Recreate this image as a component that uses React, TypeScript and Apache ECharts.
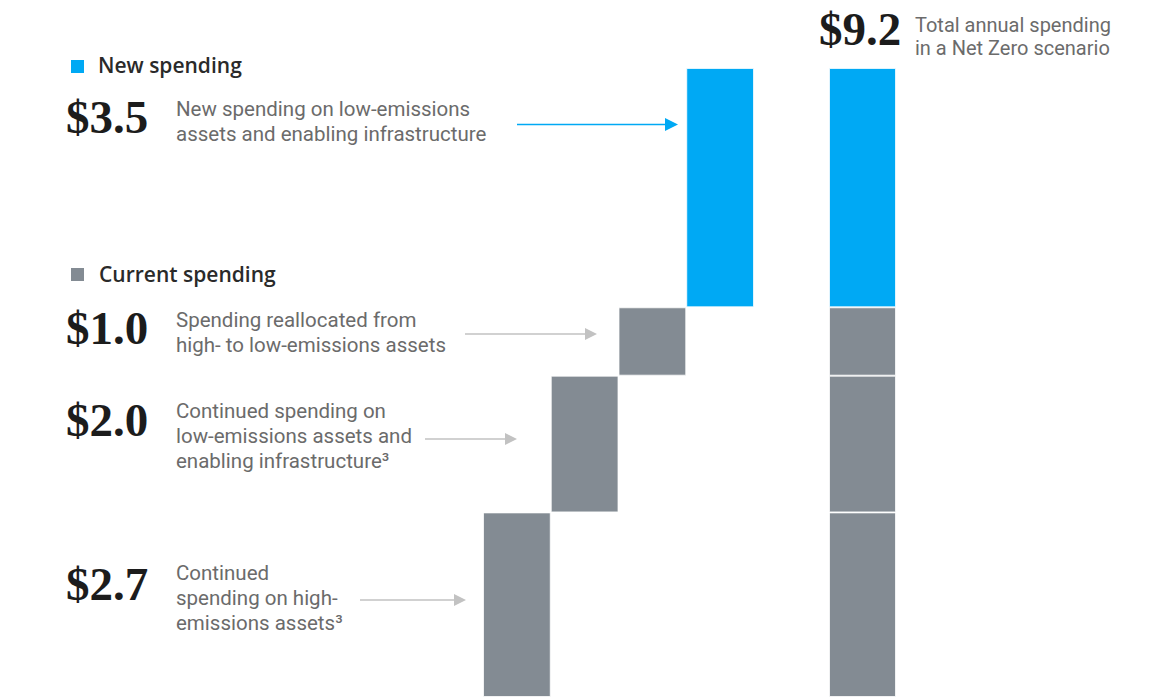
import React, { useEffect, useRef } from "react";
import * as echarts from "echarts";

const categories = ["High-emissions assets", "Low-emissions assets", "Reallocated", "New spending"];
const values = [2.7, 2.0, 1.0, 3.5];
const kinds = ["current", "current", "current", "new"];
const totalLabel = "$9.2";
const yMax = 9.2;

const GRAY = "#838b93";
const BLUE = "#00a9f4";
const DARK = "#1c1c1c";
const DESC = "#6b6b6b";
const ARROW_GRAY = "#c2c2c2";

const SERIF = "'Liberation Serif', 'DejaVu Serif', serif";
const SANS = "Roboto, 'Noto Sans', sans-serif";
const LEG = "'Open Sans', Roboto, sans-serif";

// baseline-positioned text (zrender positions by top; convert)
function txt(text: string, x: number, baseline: number, size: number, family: string, weight: string, fill: string, k = 0.86) {
  return {
    type: "text",
    x,
    y: baseline - size * k,
    silent: true,
    style: {
      text,
      x: 0,
      y: 0,
      font: `${weight} ${size}px ${family}`,
      fill,
      align: "left",
      verticalAlign: "top",
    },
  };
}

function arrow(x1: number, x2: number, y: number, color: string, head: number) {
  return [
    {
      type: "line",
      silent: true,
      shape: { x1, y1: y, x2: x2 - head + 1, y2: y },
      style: { stroke: color, lineWidth: 1.6 },
    },
    {
      type: "polygon",
      silent: true,
      shape: {
        points: [
          [x2 - head, y - head / 2],
          [x2, y],
          [x2 - head, y + head / 2],
        ],
      },
      style: { fill: color },
    },
  ];
}

export default function App() {
  const ref = useRef<HTMLDivElement>(null);

  useEffect(() => {
    if (!ref.current) return;
    const chart = echarts.init(ref.current, undefined, { renderer: "svg" });

    const bases: number[] = [];
    let acc = 0;
    values.forEach((v) => {
      bases.push(Math.round(acc * 10) / 10);
      acc += v;
    });

    const num = (t: string, x: number, b: number) => txt(t, x, b, 47, SERIF, "bold", DARK, 0.85);
    const desc = (t: string, x: number, b: number) => txt(t, x, b, 20.5, SANS, "normal", DESC, 0.84);
    const leg = (t: string, x: number, b: number) => txt(t, x, b, 21, LEG, "600", "#2a2a2a", 0.9);

    const graphic: any[] = [
      { type: "rect", silent: true, shape: { x: 71, y: 60, width: 13, height: 13 }, style: { fill: BLUE } },
      leg("New spending", 98, 73),
      num("$3.5", 66, 133),
      desc("New spending on low-emissions", 176, 116),
      desc("assets and enabling infrastructure", 176, 141),
      ...arrow(517, 678, 124.5, BLUE, 13),

      { type: "rect", silent: true, shape: { x: 71, y: 268, width: 13, height: 13 }, style: { fill: GRAY } },
      leg("Current spending", 99, 282),

      num("$1.0", 66, 344),
      desc("Spending reallocated from", 176, 327),
      desc("high- to low-emissions assets", 176, 352),
      ...arrow(465, 597, 334, ARROW_GRAY, 12),

      num("$2.0", 66, 436),
      desc("Continued spending on", 176, 418),
      desc("low-emissions assets and", 176, 443),
      desc("enabling infrastructure³", 176, 468),
      ...arrow(425, 517, 439, ARROW_GRAY, 12),

      num("$2.7", 66, 600),
      desc("Continued", 176, 580),
      desc("spending on high-", 176, 605),
      desc("emissions assets³", 176, 630),
      ...arrow(360, 466, 600, ARROW_GRAY, 12),

      num(totalLabel, 819, 45),
      txt("Total annual spending", 915, 32, 20, SANS, "normal", DESC, 0.84),
      txt("in a Net Zero scenario", 915, 55, 20, SANS, "normal", DESC, 0.84),
    ];

    const colorOf = (k: string) => (k === "new" ? BLUE : GRAY);
    const border = { borderColor: "rgba(255,255,255,0.75)", borderWidth: 1 };

    const totalSeries = values.map((v, i) => ({
      name: categories[i],
      type: "bar",
      xAxisIndex: 1,
      yAxisIndex: 1,
      stack: "total",
      barWidth: "100%",
      silent: true,
      itemStyle: { color: colorOf(kinds[i]), ...border },
      data: [v],
    }));

    chart.setOption({
      animation: false,
      grid: [
        { left: 483, width: 271, top: 68, bottom: 0 },
        { left: 829, width: 67, top: 68, bottom: 0 },
      ],
      xAxis: [
        { type: "category", gridIndex: 0, data: categories, show: false },
        { type: "category", gridIndex: 1, data: ["Total"], show: false },
      ],
      yAxis: [
        { type: "value", gridIndex: 0, min: 0, max: yMax, show: false },
        { type: "value", gridIndex: 1, min: 0, max: yMax, show: false },
      ],
      series: [
        {
          type: "bar",
          xAxisIndex: 0,
          yAxisIndex: 0,
          stack: "w",
          barCategoryGap: 0,
          silent: true,
          itemStyle: { color: "transparent" },
          data: bases,
        },
        {
          type: "bar",
          xAxisIndex: 0,
          yAxisIndex: 0,
          stack: "w",
          barCategoryGap: 0,
          silent: true,
          data: values.map((v, i) => ({ value: v, itemStyle: { color: colorOf(kinds[i]), ...border } })),
        },
        ...totalSeries,
      ],
      graphic,
    });

    return () => chart.dispose();
  }, []);

  return (
    <div
      ref={ref}
      style={{ position: "fixed", left: 0, top: 0, width: 1158, height: 697, background: "#fff" }}
    />
  );
}
